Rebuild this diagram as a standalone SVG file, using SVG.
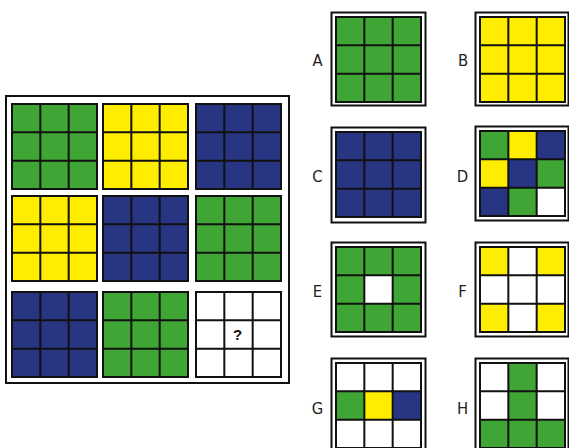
<svg xmlns="http://www.w3.org/2000/svg" xmlns:xlink="http://www.w3.org/1999/xlink" width="569" height="448" viewBox="0 0 569 448">
<style>
.g{fill:#3fa535}.y{fill:#ffed00}.b{fill:#283583}.w{fill:#ffffff}
.gl{fill:none;stroke:#111;stroke-width:2}
.frame{fill:#fff;stroke:#111;stroke-width:2}
.lbl{font-family:'DejaVu Sans Condensed','Liberation Sans Narrow',Roboto,sans-serif;font-stretch:condensed;font-size:16.5px;fill:#222;text-anchor:middle}
.q{font-family:'Liberation Sans',Arial,sans-serif;font-size:15px;font-weight:bold;fill:#111;text-anchor:middle}
</style>
<defs>
<path id="lines" d="M0 0H85V85H0Z M28.33 0V85 M56.67 0V85 M0 28.33H85 M0 56.67H85"/>
</defs>
<rect width="569" height="448" fill="#fff"/>
<g id="matrix">
<rect class="frame" x="6" y="96" width="283" height="287"/>
<g id="m11" transform="translate(12,104)"><rect class="g" width="85" height="85"/><use href="#lines" class="gl"/></g>
<g id="m12" transform="translate(103,104)"><rect class="y" width="85" height="85"/><use href="#lines" class="gl"/></g>
<g id="m13" transform="translate(196,104)"><rect class="b" width="85" height="85"/><use href="#lines" class="gl"/></g>
<g id="m21" transform="translate(12,196)"><rect class="y" width="85" height="85"/><use href="#lines" class="gl"/></g>
<g id="m22" transform="translate(103,196)"><rect class="b" width="85" height="85"/><use href="#lines" class="gl"/></g>
<g id="m23" transform="translate(196,196)"><rect class="g" width="85" height="85"/><use href="#lines" class="gl"/></g>
<g id="m31" transform="translate(12,292)"><rect class="b" width="85" height="85"/><use href="#lines" class="gl"/></g>
<g id="m32" transform="translate(103,292)"><rect class="g" width="85" height="85"/><use href="#lines" class="gl"/></g>
<g id="m33" transform="translate(196,292)"><rect class="w" width="85" height="85"/><use href="#lines" class="gl"/><text class="q" x="41.5" y="47.5">?</text></g>
</g>
<g id="optA">
<text class="lbl" x="317.5" y="66">A</text>
<rect class="frame" x="331.5" y="12.5" width="94" height="93"/>
<g transform="translate(336,17)"><rect class="g" width="85" height="85"/><use href="#lines" class="gl"/></g>
</g>
<g id="optB">
<text class="lbl" x="463" y="66">B</text>
<rect class="frame" x="475.5" y="12.5" width="93" height="93"/>
<g transform="translate(480,17)"><rect class="y" width="85" height="85"/><use href="#lines" class="gl"/></g>
</g>
<g id="optC">
<text class="lbl" x="317.5" y="182">C</text>
<rect class="frame" x="331.5" y="127.5" width="94" height="95"/>
<g transform="translate(336,132)"><rect class="b" width="85" height="85"/><use href="#lines" class="gl"/></g>
</g>
<g id="optD">
<text class="lbl" x="462.5" y="182">D</text>
<rect class="frame" x="475.5" y="126.5" width="93" height="94"/>
<g transform="translate(480,131)">
<rect class="g" x="0" y="0" width="28.33" height="28.33"/><rect class="y" x="28.33" y="0" width="28.33" height="28.33"/><rect class="b" x="56.67" y="0" width="28.33" height="28.33"/>
<rect class="y" x="0" y="28.33" width="28.33" height="28.33"/><rect class="b" x="28.33" y="28.33" width="28.33" height="28.33"/><rect class="g" x="56.67" y="28.33" width="28.33" height="28.33"/>
<rect class="b" x="0" y="56.67" width="28.33" height="28.33"/><rect class="g" x="28.33" y="56.67" width="28.33" height="28.33"/><rect class="w" x="56.67" y="56.67" width="28.33" height="28.33"/>
<use href="#lines" class="gl"/></g>
</g>
<g id="optE">
<text class="lbl" x="317.5" y="297">E</text>
<rect class="frame" x="331.5" y="242.5" width="94" height="94"/>
<g transform="translate(336,247)"><rect class="g" width="85" height="85"/><rect class="w" x="28.33" y="28.33" width="28.33" height="28.33"/><use href="#lines" class="gl"/></g>
</g>
<g id="optF">
<text class="lbl" x="462.5" y="297">F</text>
<rect class="frame" x="475.5" y="242.5" width="93" height="94"/>
<g transform="translate(480,247)"><rect class="w" width="85" height="85"/>
<rect class="y" x="0" y="0" width="28.33" height="28.33"/><rect class="y" x="56.67" y="0" width="28.33" height="28.33"/>
<rect class="y" x="0" y="56.67" width="28.33" height="28.33"/><rect class="y" x="56.67" y="56.67" width="28.33" height="28.33"/>
<use href="#lines" class="gl"/></g>
</g>
<g id="optG">
<text class="lbl" x="317.5" y="414">G</text>
<rect class="frame" x="331.5" y="358.5" width="94" height="94"/>
<g transform="translate(336,363)"><rect class="w" width="85" height="85"/>
<rect class="g" x="0" y="28.33" width="28.33" height="28.33"/><rect class="y" x="28.33" y="28.33" width="28.33" height="28.33"/><rect class="b" x="56.67" y="28.33" width="28.33" height="28.33"/>
<use href="#lines" class="gl"/></g>
</g>
<g id="optH">
<text class="lbl" x="462.5" y="414">H</text>
<rect class="frame" x="475.5" y="358.5" width="93" height="94"/>
<g transform="translate(480,363)"><rect class="w" width="85" height="85"/>
<rect class="g" x="28.33" y="0" width="28.33" height="56.67"/><rect class="g" x="0" y="56.67" width="85" height="28.33"/>
<use href="#lines" class="gl"/></g>
</g>
</svg>
